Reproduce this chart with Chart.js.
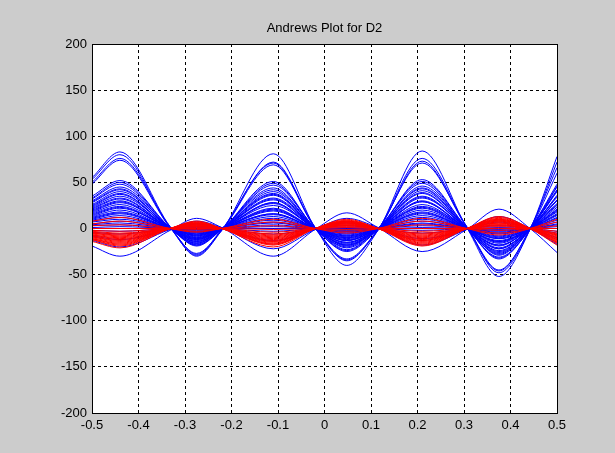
<!DOCTYPE html>
<html>
<head>
<meta charset="utf-8">
<script src="https://cdn.jsdelivr.net/npm/chart.js@4"></script>
<style>
  body { margin: 0; background: #cccccc; }
  canvas { display: block; }
</style>
</head>
<body>
<canvas id="chart" width="615" height="453"></canvas>
<script>
const chartTitle = "Andrews Plot for D2";

const xSamples = [-0.5, -0.44, -0.332, -0.275, -0.221, -0.11, -0.02, 0.048, 0.115, 0.21, 0.306, 0.375, 0.442, 0.5];

// blue group, one row per curve
const blueCurves = [
  [55, 83, 2, -30, -2, 81, 1, -40, -2, 84, 1, -52, -1, 78],
  [53, 80, 1, -29, -2, 72, 1, -35, -1, 76, 2, -48, -1, 72],
  [50, 76, 2, -28, -1, 71, 0, -34, -2, 73, 1, -46, 0, 66],
  [48, 74, 1, -27, -2, 69, 1, -33, -1, 71, 2, -45, -1, 60],
  [35, 52, 1, -19, -1, 51, 0, -25, -1, 53, 1, -33, 0, 48],
  [33, 50, 1, -18, -1, 49, 0, -24, 0, 51, 1, -32, 0, 46],
  [32, 48, 0, -18, -1, 47, 1, -23, 0, 49, 0, -31, -1, 45],
  [30, 45, 1, -17, 0, 44, 0, -21, -1, 46, 1, -29, 0, 42],
  [29, 43, 0, -16, 0, 42, 0, -20, 0, 44, 0, -28, 0, 41],
  [28, 42, 0, -16, -1, 40, 1, -19, 0, 43, 0, -27, 0, 40],
  [26, 40, 1, -15, 0, 38, 0, -18, -1, 41, 1, -26, -1, 36],
  [25, 38, 0, -14, 0, 37, 0, -18, 0, 39, 0, -25, 0, 35],
  [24, 37, 0, -14, -1, 36, 0, -17, 0, 38, 0, -24, 0, 34],
  [23, 35, 1, -13, 0, 33, 1, -16, 0, 35, 0, -22, 0, 31],
  [22, 33, 0, -12, 0, 32, 0, -15, 0, 34, 0, -22, 0, 31],
  [21, 32, 0, -12, 0, 31, 0, -15, -1, 33, 1, -21, 0, 30],
  [20, 30, 0, -11, -1, 28, 0, -13, 0, 30, 0, -19, 1, 27],
  [19, 29, 0, -11, 0, 28, 0, -13, 0, 29, 0, -18, 0, 26],
  [18, 28, 1, -10, 0, 27, 0, -13, 0, 29, 0, -18, 0, 25],
  [17, 26, 0, -10, 0, 25, 1, -12, 0, 26, 0, -16, 0, 23],
  [16, 24, 0, -9, 0, 22, 0, -11, 0, 24, 1, -15, 0, 21],
  [15, 23, 0, -8, 0, 21, 0, -10, 0, 23, 0, -14, 0, 20],
  [14, 22, 1, -8, 0, 20, 0, -10, 0, 22, 0, -14, 0, 19],
  [13, 20, 0, -7, 0, 19, 0, -9, 0, 20, 0, -13, 0, 18],
  [12, 18, 0, -7, 0, 16, 0, -8, 0, 18, 0, -11, 0, 16],
  [11, 17, 0, -6, 0, 16, 0, -8, 0, 17, 0, -11, 0, 15],
  [10, 16, 0, -6, 0, 15, 0, -7, 0, 16, 0, -10, 0, 14],
  [9, 14, 0, -5, 0, 13, 0, -6, 0, 14, 0, -9, 0, 12],
  [8, 12, 0, -4, 0, 11, 0, -5, 0, 12, 0, -8, 0, 11],
  [7, 10, 0, -4, 0, 9, 0, -4, 0, 10, 0, -6, 0, 9],
  [5, 8, 0, -3, 0, 7, 0, -3, 0, 8, 0, -5, 0, 7],
  [4, 6, 0, -2, 0, 6, 0, -3, 0, 6, 0, -4, 0, 5],
  [3, 4, 0, -1, 0, 4, 0, -2, 0, 5, 0, -3, 0, 4],
  [1, 2, 0, -1, 0, 2, 0, -1, 0, 3, 0, -2, 0, 2],
  [0, 0, 0, 0, 0, 0, 0, 0, 0, 1, 0, -1, 0, 0],
  [-2, -3, 0, 1, 0, -3, 0, 1, 0, -2, 0, 1, 0, -3],
  [-4, -6, 0, 2, 0, -6, 0, 3, 0, -5, 0, 3, 0, -5],
  [-8, -12, -1, 5, 0, -13, -1, 6, 0, -11, -1, 7, 0, -10],
  [-13, -20, -1, 8, 1, -22, -1, 11, 1, -18, -1, 13, 0, -17],
  [-19, -30, -2, 11, 1, -30, -1, 17, 1, -25, -1, 21, 0, -26]
];

// red group
const redCurves = [
  [8, 12, 0, -4, 0, 10, 0, -5, 0, 11, 0, -7, 0, 10],
  [5, 8, 0, -3, 0, 7, 0, -3, 0, 8, 0, -5, 0, 7],
  [3, 4, 0, -1, 0, 3, 0, -1, 0, 4, 0, -2, 0, 3],
  [0, 0, 0, 0, 0, -1, 0, 1, 0, 0, 0, 0, 0, 0],
  [-2, -3, 0, 1, 0, -4, 0, 2, 0, -3, 0, 2, 0, -3],
  [-3, -5, 0, 2, 0, -6, 0, 3, 0, -5, 0, 3, 0, -5],
  [-4, -6, 0, 2, 0, -7, 0, 3, 0, -6, 0, 4, 0, -6],
  [-5, -7, 0, 3, 0, -8, 0, 4, 0, -7, 0, 4, 0, -7],
  [-5, -8, 0, 3, 0, -9, 0, 4, 0, -8, 0, 5, 0, -7],
  [-6, -9, 0, 3, 0, -10, 0, 5, 0, -9, 0, 6, 0, -8],
  [-7, -10, 0, 4, 0, -11, 0, 5, 0, -10, 0, 6, 0, -9],
  [-7, -11, 0, 4, 0, -12, 0, 6, 0, -11, 0, 7, 0, -10],
  [-8, -12, 0, 4, 0, -13, 0, 6, 0, -12, 0, 8, 0, -11],
  [-9, -13, 0, 5, 0, -14, 0, 7, 0, -13, 0, 8, 0, -12],
  [-9, -14, 0, 5, 0, -14, 0, 7, 0, -13, 0, 9, 0, -12],
  [-10, -15, 0, 6, 0, -15, 0, 7, 0, -14, 0, 9, 0, -13],
  [-11, -16, 0, 6, 0, -16, 0, 8, 0, -15, 0, 10, 0, -14],
  [-11, -17, 0, 6, 0, -17, 0, 8, 0, -16, 0, 10, 0, -15],
  [-12, -18, 0, 7, 0, -17, 0, 8, 0, -17, 0, 11, 0, -15],
  [-12, -19, 0, 7, 0, -18, 0, 9, 0, -18, 0, 12, 0, -16],
  [-14, -21, 0, 8, 0, -20, 0, 10, 0, -19, 0, 13, 0, -18]
];

function toPoints(curve) {
  return xSamples.map((x, i) => ({ x: x, y: curve[i] }));
}

function lineSet(curve, color) {
  return {
    data: toPoints(curve),
    borderColor: color,
    borderWidth: 1,
    pointRadius: 0,
    fill: false,
    cubicInterpolationMode: "monotone"
  };
}

// first datasets are painted last, so red goes first to sit on top
const datasets = [];
redCurves.forEach((c) => datasets.push(lineSet(c, "#ff0000")));
blueCurves.forEach((c) => datasets.push(lineSet(c, "#0000ff")));

const font = { family: "'Liberation Sans', Arial, sans-serif", size: 13 };

const panelBg = {
  id: "panelBg",
  beforeDraw(chart) {
    const ctx = chart.ctx;
    const a = chart.chartArea;
    ctx.save();
    ctx.fillStyle = "#cccccc";
    ctx.fillRect(0, 0, chart.width, chart.height);
    ctx.fillStyle = "#ffffff";
    ctx.fillRect(a.left, a.top, a.right - a.left, a.bottom - a.top);
    ctx.restore();
  },
  afterDraw(chart) {
    const ctx = chart.ctx;
    const a = chart.chartArea;
    ctx.save();
    ctx.strokeStyle = "#000000";
    ctx.lineWidth = 1;
    ctx.strokeRect(Math.round(a.left) + 0.5, Math.round(a.top) + 0.5,
      Math.round(a.right - a.left), Math.round(a.bottom - a.top));
    // title centred over the plot box, like matlab does
    ctx.fillStyle = "#000000";
    ctx.font = font.size + "px " + font.family;
    ctx.textAlign = "center";
    ctx.textBaseline = "middle";
    ctx.fillText(chartTitle, (a.left + a.right) / 2, 28);
    ctx.restore();
  }
};

new Chart(document.getElementById("chart").getContext("2d"), {
  type: "line",
  data: { datasets },
  plugins: [panelBg],
  options: {
    responsive: false,
    animation: false,
    events: [],
    layout: { padding: { left: 0, right: 58, top: 44, bottom: 0 } },
    plugins: {
      legend: { display: false },
      tooltip: { enabled: false },
      title: { display: false }
    },
    scales: {
      x: {
        type: "linear",
        min: -0.5,
        max: 0.5,
        afterFit(scale) { scale.height = 40; },
        ticks: {
          stepSize: 0.1,
          color: "#000000",
          font,
          padding: 5,
          maxRotation: 0,
          autoSkip: false,
          callback: (v) => {
            const r = Math.round(v * 10) / 10;
            return r === 0 ? "0" : String(r);
          }
        },
        grid: { color: "#000000", drawTicks: false },
        border: { display: false, dash: [3, 3] }
      },
      y: {
        min: -200,
        max: 200,
        afterFit(scale) { scale.width = 92; },
        ticks: { stepSize: 50, color: "#000000", font, padding: 5, autoSkip: false },
        grid: { color: "#000000", drawTicks: false },
        border: { display: false, dash: [3, 3] }
      }
    }
  }
});
</script>
</body>
</html>
